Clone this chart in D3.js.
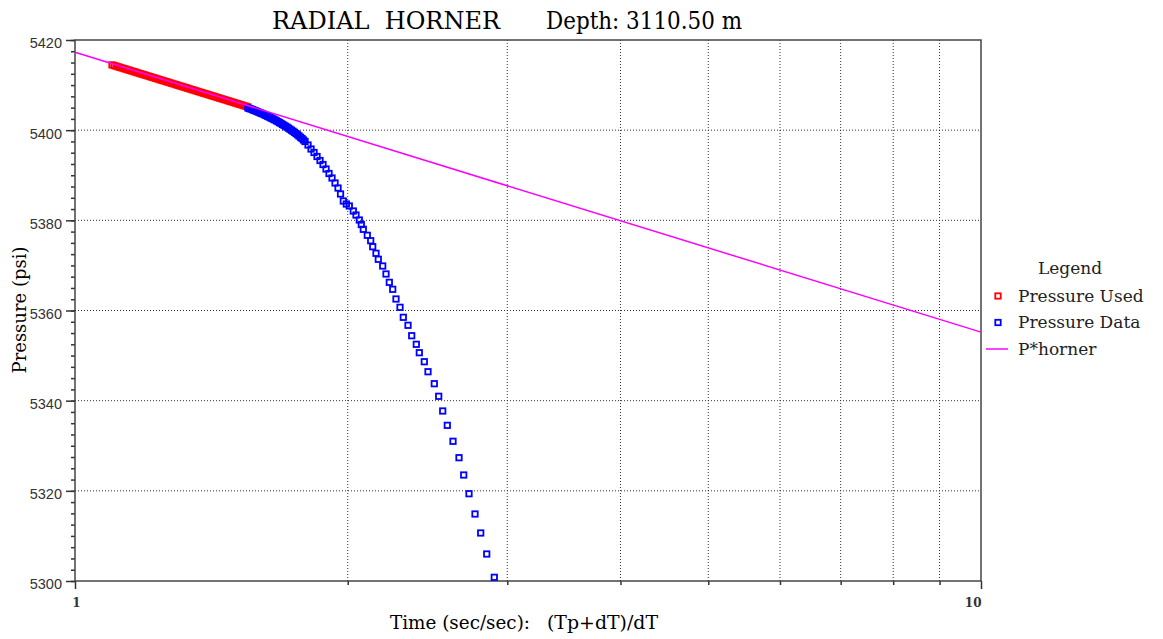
<!DOCTYPE html>
<html><head><meta charset="utf-8">
<script src="https://cdn.jsdelivr.net/npm/d3@7"></script>
<style>
html,body{margin:0;padding:0;background:#fff;}
svg{display:block;}
</style>
</head><body>
<svg id="chart" width="1163" height="639"></svg>
<script>
// ---- data ----
const titleText = "RADIAL  HORNER";
const depthText = "Depth: 3110.50 m";
const xLabelA = "Time (sec/sec):";
const xLabelB = "(Tp+dT)/dT";
const yLabel = "Pressure (psi)";
const legendTitle = "Legend";
const seriesNames = ["Pressure Used", "Pressure Data", "P*horner"];

const yMajorTicks = [5300, 5320, 5340, 5360, 5380, 5400, 5420];
const xMajorTicks = [1, 10];
const xMinorTicks = [2, 3, 4, 5, 6, 7, 8, 9];

// Pressure Used (red)
const usedX = [1.0986,1.1042,1.1098,1.1154,1.1211,1.1268,1.1326,1.1383,1.1441,1.1499,1.1558,1.1617,1.1676,1.1735,1.1795,1.1855,1.1916,1.1976,1.2037,1.2098,1.2160,1.2222,1.2284,1.2347,1.2410,1.2473,1.2536,1.2600,1.2664,1.2729,1.2794,1.2859,1.2924,1.2990,1.3056,1.3122,1.3189,1.3256,1.3324,1.3392,1.3460,1.3528,1.3597,1.3666,1.3736,1.3806,1.3876,1.3947,1.4018,1.4089,1.4161,1.4233,1.4305,1.4378,1.4451,1.4525,1.4599,1.4673,1.4748,1.4823,1.4898,1.4974,1.5050,1.5127,1.5204,1.5281,1.5359,1.5437,1.5516];
const usedP = [5414.48,5414.35,5414.21,5414.07,5413.93,5413.80,5413.66,5413.53,5413.39,5413.25,5413.11,5412.98,5412.84,5412.70,5412.56,5412.43,5412.29,5412.16,5412.02,5411.88,5411.74,5411.61,5411.47,5411.33,5411.19,5411.06,5410.92,5410.79,5410.65,5410.51,5410.37,5410.24,5410.10,5409.96,5409.82,5409.69,5409.55,5409.42,5409.28,5409.14,5409.00,5408.87,5408.73,5408.59,5408.45,5408.32,5408.18,5408.05,5407.91,5407.77,5407.63,5407.50,5407.36,5407.22,5407.08,5406.95,5406.81,5406.68,5406.54,5406.40,5406.26,5406.13,5405.99,5405.85,5405.71,5405.58,5405.44,5405.30,5405.16];

// Pressure Data (blue)
const dataX = [1.5520,1.5580,1.5641,1.5701,1.5761,1.5821,1.5881,1.5942,1.6003,1.6064,1.6126,1.6187,1.6249,1.6311,1.6373,1.6436,1.6499,1.6562,1.6626,1.6689,1.6753,1.6817,1.6881,1.6945,1.7010,1.7075,1.7141,1.7206,1.7272,1.7338,1.7404,1.7470,1.7537,1.7604,1.7671,1.7738,1.7806,1.7874,1.7943,1.8080,1.8219,1.8358,1.8499,1.8640,1.8783,1.8927,1.9071,1.9217,1.9365,1.9513,1.9637,1.9778,1.9929,2.0080,2.0286,2.0425,2.0597,2.0702,2.0807,2.1020,2.1202,2.1311,2.1490,2.1616,2.1859,2.2043,2.2229,2.2422,2.2610,2.2842,2.3034,2.3311,2.3531,2.3808,2.3990,2.4297,2.4526,2.4922,2.5202,2.5460,2.5759,2.6135,2.6537,2.6856,2.7220,2.7638,2.8041,2.8473,2.9027];
const dataP = [5404.92,5404.80,5404.69,5404.55,5404.41,5404.28,5404.14,5404.00,5403.85,5403.72,5403.59,5403.42,5403.25,5403.09,5402.92,5402.76,5402.59,5402.43,5402.26,5402.07,5401.88,5401.68,5401.48,5401.28,5401.08,5400.87,5400.66,5400.44,5400.21,5399.98,5399.75,5399.51,5399.26,5398.99,5398.71,5398.43,5398.15,5397.82,5397.49,5396.71,5395.82,5395.05,5394.16,5393.27,5392.38,5391.39,5390.39,5389.39,5388.28,5387.17,5385.84,5384.29,5383.62,5383.18,5382.07,5381.18,5380.07,5379.08,5378.01,5376.68,5375.48,5374.15,5372.69,5371.36,5369.87,5368.10,5366.25,5364.70,5362.55,5360.71,5358.49,5356.72,5354.41,5352.50,5350.64,5348.64,5346.42,5343.76,5340.97,5337.71,5334.53,5330.99,5327.35,5323.51,5319.36,5314.86,5310.65,5305.99,5300.82];

// P*horner straight line (two end points)
const hornerX = [1, 10];
const hornerP = [5417.3, 5355.2];

// ---- chart ----
const svg = d3.select("#chart");
const L = 75, R = 981, T = 40, B = 581;
const x = d3.scaleLog().domain([1, 10]).range([L, R]);
const y = d3.scaleLinear().domain([5300, 5420]).range([B, T]);
const serif = "'DejaVu Serif', serif";
const sans = "'Liberation Sans', Arial, sans-serif";

// grid
const grid = svg.append("g");
grid.selectAll("line.v").data(xMinorTicks).join("line")
  .attr("x1", d => x(d)).attr("x2", d => x(d)).attr("y1", T).attr("y2", B)
  .attr("stroke", "#333").attr("stroke-width", 1).attr("stroke-dasharray", "1,2");
grid.selectAll("line.h").data(yMajorTicks.filter(v => v > 5300 && v < 5420)).join("line")
  .attr("x1", L).attr("x2", R).attr("y1", d => y(d)).attr("y2", d => y(d))
  .attr("stroke", "#333").attr("stroke-width", 1).attr("stroke-dasharray", "1,2");

// axes
const yMinor = d3.range(5300, 5420.01, 2.5);
const gyMin = svg.append("g").attr("transform", `translate(${L},0)`)
  .call(d3.axisLeft(y).tickValues(yMinor).tickSize(4).tickFormat(""));
const gy = svg.append("g").attr("transform", `translate(${L},0)`)
  .call(d3.axisLeft(y).tickValues(yMajorTicks).tickSize(9).tickPadding(4).tickFormat(d3.format("d")));
const gxMin = svg.append("g").attr("transform", `translate(0,${B})`)
  .call(d3.axisBottom(x).tickValues(xMinorTicks).tickSize(4).tickFormat(""));
const gx = svg.append("g").attr("transform", `translate(0,${B})`)
  .call(d3.axisBottom(x).tickValues(xMajorTicks).tickSize(8).tickPadding(9).tickFormat(d3.format("d")));
[gyMin, gy, gxMin, gx].forEach(g => {
  g.select(".domain").remove();
  g.selectAll(".tick line").attr("stroke", "#333").attr("stroke-width", 1.5);
});
gy.selectAll(".tick text").attr("font-family", sans).attr("font-size", 14.5).attr("fill", "#333").attr("dy", "0.55em");
gx.selectAll(".tick text").attr("font-family", serif).attr("font-size", 12).attr("font-weight", "bold").attr("fill", "#333")
  .attr("text-anchor", d => d === 10 ? "end" : "middle");
gx.selectAll(".tick").filter(d => d === 1).select("text").attr("dx", 1);

// frame
svg.append("rect").attr("x", L).attr("y", T).attr("width", R - L).attr("height", B - T)
  .attr("fill", "none").attr("stroke", "#444").attr("stroke-width", 1.5);

// markers
function drawSquares(xs, ps, color) {
  svg.append("g").selectAll("rect").data(xs.map((v, i) => [v, ps[i]])).join("rect")
    .attr("x", d => x(d[0]) - 2.7).attr("y", d => y(d[1]) - 2.7)
    .attr("width", 5.4).attr("height", 5.4)
    .attr("fill", "none").attr("stroke", color).attr("stroke-width", 1.8);
}
drawSquares(usedX, usedP, "#ff0000");
drawSquares(dataX, dataP, "#0000ff");

// horner line
svg.append("path").datum(hornerX.map((v, i) => [v, hornerP[i]]))
  .attr("d", d3.line().x(d => x(d[0])).y(d => y(d[1])))
  .attr("stroke", "#ff00ff").attr("stroke-width", 1.5).attr("fill", "none");

// title
svg.append("text").attr("x", 272).attr("y", 29).attr("font-family", serif).attr("font-size", 25)
  .attr("textLength", 228).attr("lengthAdjust", "spacingAndGlyphs").style("white-space", "pre").text(titleText);
svg.append("text").attr("x", 546).attr("y", 29).attr("font-family", serif).attr("font-size", 25)
  .attr("textLength", 196).attr("lengthAdjust", "spacingAndGlyphs").text(depthText);

// axis labels
svg.append("text").attr("x", 390).attr("y", 629).attr("font-family", serif).attr("font-size", 18)
  .attr("textLength", 140).attr("lengthAdjust", "spacingAndGlyphs").text(xLabelA);
svg.append("text").attr("x", 547).attr("y", 629).attr("font-family", serif).attr("font-size", 18)
  .attr("textLength", 111).attr("lengthAdjust", "spacingAndGlyphs").text(xLabelB);
svg.append("text").attr("transform", "translate(26,310) rotate(-90)").attr("text-anchor", "middle")
  .attr("font-family", serif).attr("font-size", 18).text(yLabel);

// legend
const lg = svg.append("g").attr("font-family", serif).attr("font-size", 17).attr("fill", "#222");
lg.append("text").attr("x", 1070).attr("y", 274).attr("text-anchor", "middle").text(legendTitle);
const legendColors = ["#ff0000", "#0000ff", "#ff00ff"];
seriesNames.forEach((name, i) => {
  const cy = 296 + i * 26.5;
  if (i < 2) {
    lg.append("rect").attr("x", 995.3).attr("y", cy - 2.7).attr("width", 5.4).attr("height", 5.4)
      .attr("fill", "none").attr("stroke", legendColors[i]).attr("stroke-width", 1.8);
  } else {
    lg.append("line").attr("x1", 986).attr("x2", 1008).attr("y1", cy).attr("y2", cy)
      .attr("stroke", legendColors[i]).attr("stroke-width", 1.5);
  }
  lg.append("text").attr("x", 1018).attr("y", cy + 5.5).text(name);
});
</script>
</body></html>
